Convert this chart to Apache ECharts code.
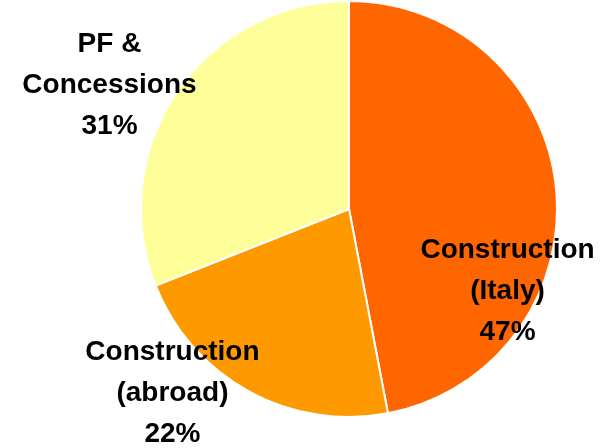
<!DOCTYPE html>
<html>
<head>
<meta charset="utf-8">
<script src="https://cdn.jsdelivr.net/npm/echarts@6/dist/echarts.min.js"></script>
<style>
html, body { margin: 0; padding: 0; background: #fff; }
#chart { width: 601px; height: 448px; }
</style>
</head>
<body>
<div id="chart"></div>
<script>
var names = ['Construction\n(Italy)', 'Construction\n(abroad)', 'PF &\nConcessions'];
var values = [47, 22, 31];
var colors = ['#FF6600', '#FF9900', '#FFFF99'];
var labelOffsets = [[52, 92], [-125, 91], [-151, -64]];

var pieData = [];
for (var i = 0; i < names.length; i++) {
	pieData.push({
		name: names[i],
		value: values[i],
		itemStyle: { color: colors[i] },
		label: { offset: labelOffsets[i] }
	});
}

var chart = echarts.init(document.getElementById('chart'));
chart.setOption({
	animation: false,
	series: [{
		type: 'pie',
		center: [349, 209],
		radius: 208,
		startAngle: 90,
		clockwise: true,
		avoidLabelOverlap: false,
		itemStyle: {
			borderColor: '#fff',
			borderWidth: 2
		},
		label: {
			show: true,
			position: 'inside',
			formatter: '{b}\n{c}%',
			fontFamily: 'Liberation Sans, Arial, sans-serif',
			fontWeight: 'bold',
			fontSize: 28,
			lineHeight: 41,
			color: '#000',
			align: 'center'
		},
		labelLine: { show: false },
		emphasis: { disabled: true },
		data: pieData
	}]
});
</script>
</body>
</html>
